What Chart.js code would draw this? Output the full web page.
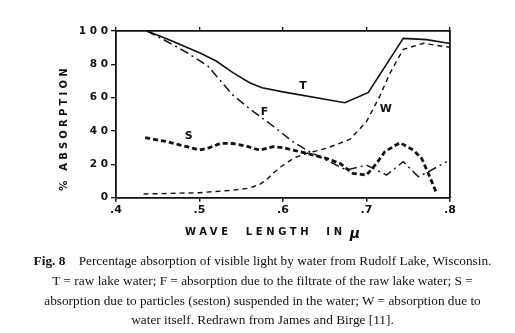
<!DOCTYPE html>
<html><head><meta charset="utf-8">
<script src="https://cdn.jsdelivr.net/npm/chart.js@4"></script>
<style>
html,body{margin:0;padding:0;background:#fff;width:515px;height:333px;overflow:hidden}
#c{position:absolute;left:0;top:0}
#cap{position:absolute;left:5px;width:515px;top:251px;text-align:center;font-family:"Liberation Serif","Times New Roman",serif;font-size:13.3px;line-height:19.8px;color:#111}
</style></head><body>
<canvas id="c" width="515" height="333"></canvas>
<div id="cap"><b>Fig. 8</b>&nbsp;&nbsp;&nbsp; Percentage absorption of visible light by water from Rudolf Lake, Wisconsin.<br>T = raw lake water; F = absorption due to the filtrate of the raw lake water; S =<br>absorption due to particles (seston) suspended in the water; W = absorption due to<br>water itself. Redrawn from James and Birge [11].</div>
<script>
// Series (wavelength in microns, % absorption)
const T_x = [0.437, 0.46, 0.5, 0.52, 0.54, 0.56, 0.575, 0.6, 0.674, 0.702, 0.744, 0.772, 0.8];
const T_y = [100, 95.5, 87, 82, 75, 69, 66, 63.5, 57, 63, 95.6, 94.8, 92.5];
const F_x = [0.437, 0.46, 0.485, 0.51, 0.54, 0.565, 0.588, 0.612, 0.632, 0.652, 0.676, 0.70, 0.724, 0.744, 0.762, 0.772, 0.796];
const F_y = [100, 94, 87, 79, 61.5, 51.5, 43, 33.5, 27.5, 22.5, 16.6, 19.5, 13.6, 21.6, 12.6, 15, 21.6];
const S_x = [0.435, 0.461, 0.485, 0.5, 0.512, 0.525, 0.54, 0.556, 0.572, 0.588, 0.6, 0.612, 0.628, 0.652, 0.668, 0.684, 0.70, 0.712, 0.722, 0.740, 0.756, 0.766, 0.774, 0.784];
const S_y = [36, 33.6, 30.6, 28.6, 30, 32.6, 32.5, 31, 28.5, 30.6, 30, 28.6, 26.6, 23.6, 20.6, 14.6, 13.6, 20.6, 27.6, 33, 28.6, 23.6, 14.6, 2.6];
const W_x = [0.433, 0.5, 0.54, 0.56, 0.572, 0.58, 0.588, 0.6, 0.614, 0.63, 0.652, 0.68, 0.70, 0.716, 0.728, 0.744, 0.768, 0.8];
const W_y = [2.2, 3, 4.5, 5.8, 8, 10.6, 14.6, 19.5, 24, 26.8, 29.6, 35, 45.6, 61, 74.6, 89, 92.6, 90.2];
const xTicks = [0.4, 0.5, 0.6, 0.7, 0.8];
const yTicks = [0, 20, 40, 60, 80, 100];
const curveLabels = ['T', 'F', 'S', 'W'];
const curveLabelX = [0.624, 0.578, 0.487, 0.723];
const curveLabelY = [67, 51.6, 37, 53.2];

const pts = (xs, ys) => xs.map((x, i) => ({x, y: ys[i]}));
const INK = '#111';
const FONT = '"DejaVu Sans", "Liberation Sans", sans-serif';

const decor = {
  id: 'decor',
  afterDraw(chart) {
    const ctx = chart.ctx, xs = chart.scales.x, ys = chart.scales.y;
    ctx.save();
    ctx.fillStyle = INK;
    ctx.textAlign = 'center';
    ctx.textBaseline = 'middle';
    ctx.font = 'bold 11px ' + FONT;
    curveLabels.forEach((t, i) => {
      ctx.fillText(t, xs.getPixelForValue(curveLabelX[i]), ys.getPixelForValue(curveLabelY[i]));
    });
    ctx.font = 'bold 10px ' + FONT;
    ctx.letterSpacing = '3.6px';
    ctx.textAlign = 'left';
    ctx.fillText('WAVE  LENGTH  IN', 185, 232);
    ctx.letterSpacing = '0px';
    ctx.font = 'italic bold 14px ' + FONT;
    ctx.textAlign = 'center';
    ctx.fillText('\u03bc', 355, 234);
    ctx.font = 'bold 10px ' + FONT;
    ctx.letterSpacing = '3.2px';
    ctx.translate(64, 128);
    ctx.rotate(-Math.PI / 2);
    ctx.fillText('% ABSORPTION', 0, 0);
    ctx.restore();
  }
};

new Chart(document.getElementById('c'), {
  type: 'line',
  data: {
    datasets: [
      {label: 'T', data: pts(T_x, T_y), borderColor: INK, borderWidth: 1.6, pointRadius: 0, tension: 0},
      {label: 'F', data: pts(F_x, F_y), borderColor: INK, borderWidth: 1.5, borderDash: [9, 4, 2, 4], pointRadius: 0, tension: 0},
      {label: 'S', data: pts(S_x, S_y), borderColor: INK, borderWidth: 2.8, borderDash: [5, 3], pointRadius: 0, tension: 0},
      {label: 'W', data: pts(W_x, W_y), borderColor: INK, borderWidth: 1.4, borderDash: [5, 4], pointRadius: 0, tension: 0}
    ]
  },
  options: {
    responsive: false,
    animation: false,
    layout: {padding: {left: 0, right: 65, top: 31, bottom: 0}},
    plugins: {legend: {display: false}, tooltip: {enabled: false}},
    scales: {
      x: {
        type: 'linear', position: 'bottom', min: 0.4, max: 0.8,
        afterBuildTicks: s => { s.ticks = xTicks.map(v => ({value: v})); },
        afterFit: s => { s.height = 135.3; },
        grid: {drawOnChartArea: false, color: INK, tickLength: 4, lineWidth: 1.5},
        border: {display: true, color: INK, width: 1.8},
        ticks: {color: INK, padding: 2, font: {family: FONT, size: 11, weight: 'bold'},
          callback: v => '.' + Math.round(v * 10)}
      },
      x2: {
        type: 'linear', position: 'top', min: 0.4, max: 0.8,
        afterBuildTicks: s => { s.ticks = xTicks.map(v => ({value: v})); },
        afterFit: s => { s.height = 0; },
        grid: {drawOnChartArea: false, color: INK, tickLength: 4, lineWidth: 1.3},
        border: {display: true, color: INK, width: 1.8},
        ticks: {display: false}
      },
      y: {
        type: 'linear', position: 'left', min: 0, max: 100,
        afterBuildTicks: s => { s.ticks = yTicks.map(v => ({value: v})); },
        afterFit: s => { s.width = 116; },
        grid: {drawOnChartArea: false, color: INK, tickLength: 5, lineWidth: 1.3},
        border: {display: true, color: INK, width: 1.8},
        ticks: {color: INK, padding: 3, font: {family: FONT, size: 10.5, weight: 'bold'},
          callback: v => String(v).split('').join(' ')}
      },
      y2: {
        type: 'linear', position: 'right', min: 0, max: 100,
        afterFit: s => { s.width = 0; },
        grid: {display: false},
        border: {display: true, color: INK, width: 1.8},
        ticks: {display: false}
      }
    }
  },
  plugins: [decor]
});
</script>
</body></html>
